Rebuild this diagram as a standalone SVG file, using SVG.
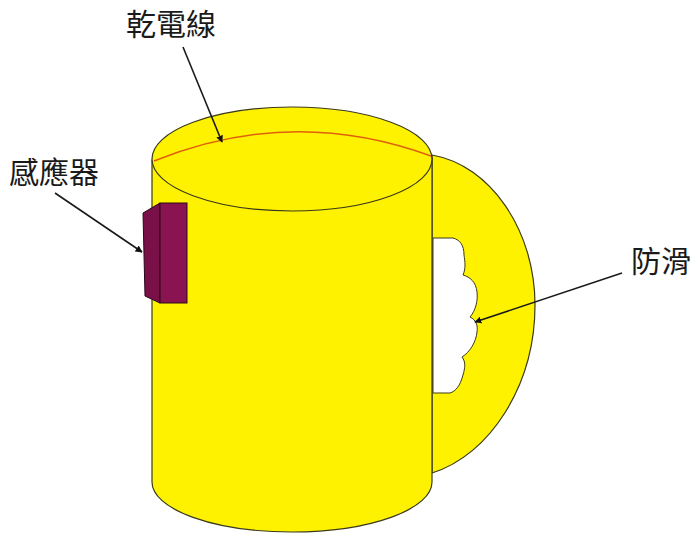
<svg xmlns="http://www.w3.org/2000/svg" width="698" height="534" viewBox="0 0 698 534">
  <style>
    .mug { fill: #FFF200; stroke: #3a3a1a; stroke-width: 1.2; }
    .label { font-family: "Noto Sans CJK TC", "Noto Sans CJK SC", sans-serif; font-size: 30px; fill: #1a1a1a; }
    .leader { fill: none; stroke: #1a1a1a; stroke-width: 1.6; marker-end: url(#tip); }
  </style>
  <defs>
    <marker id="tip" viewBox="0 0 10 10" refX="9" refY="5" markerWidth="7" markerHeight="7" markerUnits="userSpaceOnUse" orient="auto">
      <path d="M0,0 L10,5 L0,10 Z" fill="#111"/>
    </marker>
  </defs>

  <rect width="698" height="534" fill="#ffffff"/>

  <!-- handle, with scalloped grip hole -->
  <g id="handle">
    <path class="mug" d="M432,155 C490,165 535,230 535,305 C535,385 490,455 432,473 Z"/>
    <path fill="#ffffff" stroke="#3a3a1a" stroke-width="1" d="M433,238 L453,238 C460,240 464,245 464,255 C465,262 466,268 463,275 C470,277 476,282 477,292 C478,300 476,310 470,317 C476,320 478,325 477,332 C476,342 470,352 462,357 C466,362 465,368 463,375 C460,386 456,391 450,393 L433,393 Z"/>
  </g>

  <!-- cup body and rim -->
  <g id="cup">
    <path class="mug" d="M152,160 V482 A140,50 0 0 0 432,482 V158 Z"/>
    <ellipse class="mug" cx="292" cy="159" rx="140" ry="52"/>
    <path d="M154,161 Q292,105 431,156" fill="none" stroke="#E0600A" stroke-width="1.4"/>
  </g>

  <!-- sensor block -->
  <g id="sensor">
    <path d="M143,213 L160,203 L160,303 L145,296 Z" fill="#7A1048" stroke="#2a0818" stroke-width="1"/>
    <rect x="160" y="203" width="27" height="100" fill="#8A1452" stroke="#2a0818" stroke-width="1"/>
  </g>

  <!-- labels -->
  <g id="label-wire">
    <text class="label" x="126" y="35">乾電線</text>
  </g>
  <g id="label-sensor">
    <text class="label" x="9" y="183">感應器</text>
  </g>
  <g id="label-grip">
    <text class="label" x="631" y="272">防滑</text>
  </g>

  <!-- leader arrows -->
  <g id="connectors">
    <path class="leader" d="M183,47 L222,142"/>
    <path class="leader" d="M55,193 L142,252"/>
    <path class="leader" d="M622,273 L475,322"/>
  </g>
</svg>
